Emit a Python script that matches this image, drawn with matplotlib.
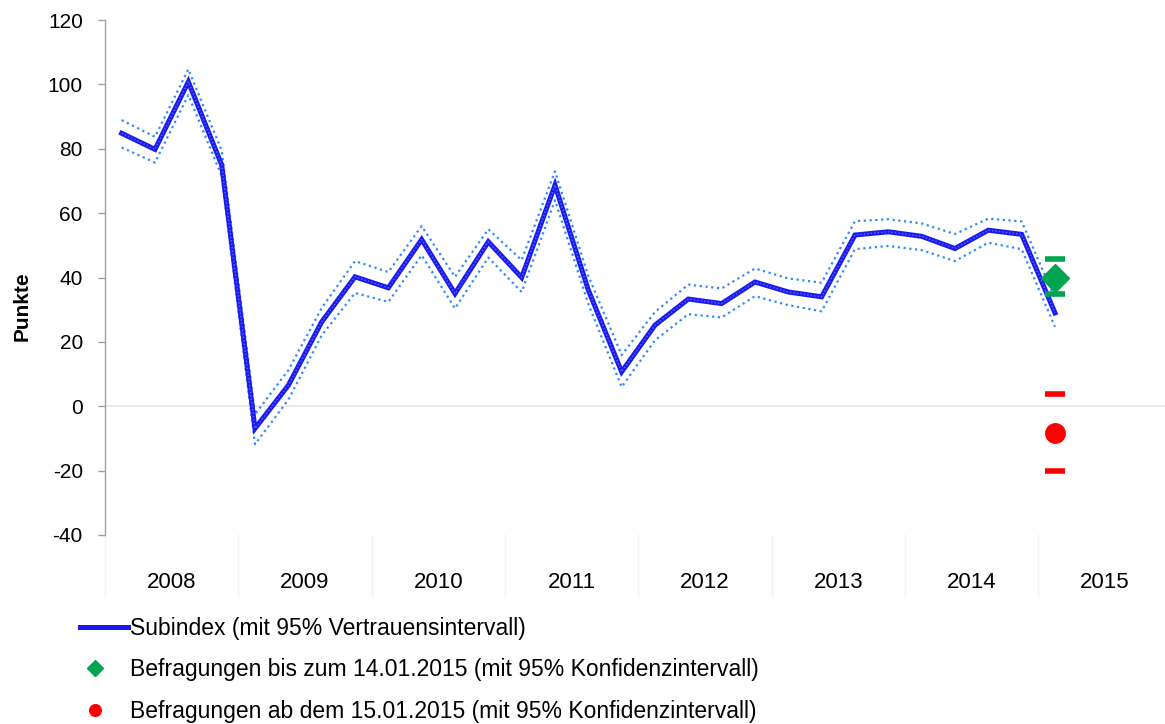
import matplotlib
matplotlib.use("Agg")
import matplotlib.pyplot as plt
import matplotlib.transforms as mtransforms
from matplotlib.legend_handler import HandlerLine2D

plt.rcParams['font.family'] = ['Liberation Sans', 'DejaVu Sans']

# ---------------- data ----------------
years = ["2008", "2009", "2010", "2011", "2012", "2013", "2014", "2015"]
quarters_per_year = 4

subindex = [84.8, 79.8, 100.8, 75.0,
            -6.9, 6.5, 26.2, 40.2,
            36.8, 51.8, 35.0, 51.1,
            40.0, 68.7, 36.1, 10.7,
            25.2, 33.3, 31.9, 38.6,
            35.5, 34.0, 53.2, 54.2,
            52.8, 49.0, 54.7, 53.4,
            29.0]
ci_upper = [88.9, 83.7, 104.7, 79.5,
            -2.5, 11.2, 30.5, 45.1,
            41.7, 56.0, 40.2, 55.0,
            45.4, 73.0, 40.5, 15.9,
            29.3, 37.8, 36.6, 42.8,
            39.7, 38.4, 57.5, 58.1,
            56.8, 53.5, 58.3, 57.4,
            33.5]
ci_lower = [80.4, 75.7, 96.7, 71.5,
            -11.8, 2.0, 22.0, 35.2,
            32.4, 46.9, 30.4, 46.2,
            35.5, 64.0, 31.8, 6.0,
            20.5, 28.6, 27.6, 34.2,
            31.4, 29.5, 48.8, 49.8,
            48.5, 45.1, 50.8, 48.8,
            24.7]

before_value, before_lo, before_hi = 40.0, 35.0, 45.7
after_value, after_lo, after_hi = -8.2, -20.1, 3.8

labels = ["Subindex (mit 95% Vertrauensintervall)",
          "Befragungen bis zum 14.01.2015 (mit 95% Konfidenzintervall)",
          "Befragungen ab dem 15.01.2015 (mit 95% Konfidenzintervall)"]

yticks = [-40, -20, 0, 20, 40, 60, 80, 100, 120]

# ---------------- figure ----------------
W, H = 1165, 724
fig = plt.figure(figsize=(W / 100, H / 100), dpi=100)
ax = fig.add_axes([105 / W, 1 - 535 / H, (W - 105) / W, (535 - 20) / H])

x = [i + 0.5 for i in range(len(subindex))]
last_x = x[-1]

main_color = '#1A1AF0'
ci_color = '#2E8BFF'

ax.plot(x, ci_upper, color=ci_color, lw=1.6, linestyle=(0, (1, 1.6)), zorder=3)
ax.plot(x, ci_lower, color=ci_color, lw=1.6, linestyle=(0, (1, 1.6)), zorder=3)
main_line, = ax.plot(x, subindex, color=main_color, lw=3.6, zorder=4,
                     solid_joinstyle='miter')
ax.plot(x, subindex, color='#5C6CFF', lw=1.0, linestyle=(0, (1, 1.5)), zorder=5)

green = '#00A550'
red = '#FF0000'
ax.plot([last_x, last_x], [before_lo, before_hi], linestyle='none', marker='_',
        markersize=15, mew=4, color=green, zorder=6)
green_pt, = ax.plot([last_x], [before_value], linestyle='none', marker='D',
                    markersize=14, color=green, zorder=6)
ax.plot([last_x, last_x], [after_lo, after_hi], linestyle='none', marker='_',
        markersize=15, mew=4, color=red, zorder=6)
red_pt, = ax.plot([last_x], [after_value], linestyle='none', marker='o',
                  markersize=14, color=red, zorder=6)

# axes styling
slot_px = 133.33 / quarters_per_year
ax.set_xlim(0, (W - 105) / slot_px)
ax.set_ylim(-40, 120)
ax.set_yticks(yticks)
ax.set_yticklabels([str(v) for v in yticks], fontsize=15)
ax.tick_params(axis='y', length=5, width=1, color='#A0A0A0', pad=11)
ax.set_xticks([])
for s in ['top', 'right', 'bottom']:
    ax.spines[s].set_visible(False)
ax.spines['left'].set_color('#A0A0A0')
ax.spines['left'].set_linewidth(1.0)
ax.axhline(0, color='#E6E6E6', lw=1.2, zorder=1)

# category separators and year labels
trans = mtransforms.blended_transform_factory(ax.transData, ax.transAxes)
sep_bottom = -(597 - 535) / 515
for k in range(len(years)):
    ax.plot([k * quarters_per_year, k * quarters_per_year], [0, sep_bottom],
            transform=trans, color='#F3F3F3', lw=1, clip_on=False, zorder=0)
    ax.text(k * quarters_per_year + quarters_per_year / 2, -(583 - 535) / 515,
            years[k], transform=trans, ha='center', va='center', fontsize=16)

fig.text(22 / W, 1 - 306 / H, "Punkte", rotation=90, ha='center', va='center',
         fontsize=15, fontweight='bold')

# legend
leg = fig.legend([main_line, green_pt, red_pt], labels,
                 loc='upper left', bbox_to_anchor=(80 / W, 1 - 617 / H),
                 frameon=False, fontsize=16.5, handlelength=2.1,
                 handletextpad=0.1, labelspacing=0.8, markerscale=0.6,
                 borderpad=0, borderaxespad=0,
                 handler_map={green_pt: HandlerLine2D(xpad=-0.79),
                              red_pt: HandlerLine2D(xpad=-0.79)})

fig.savefig("out.png", dpi=100)
